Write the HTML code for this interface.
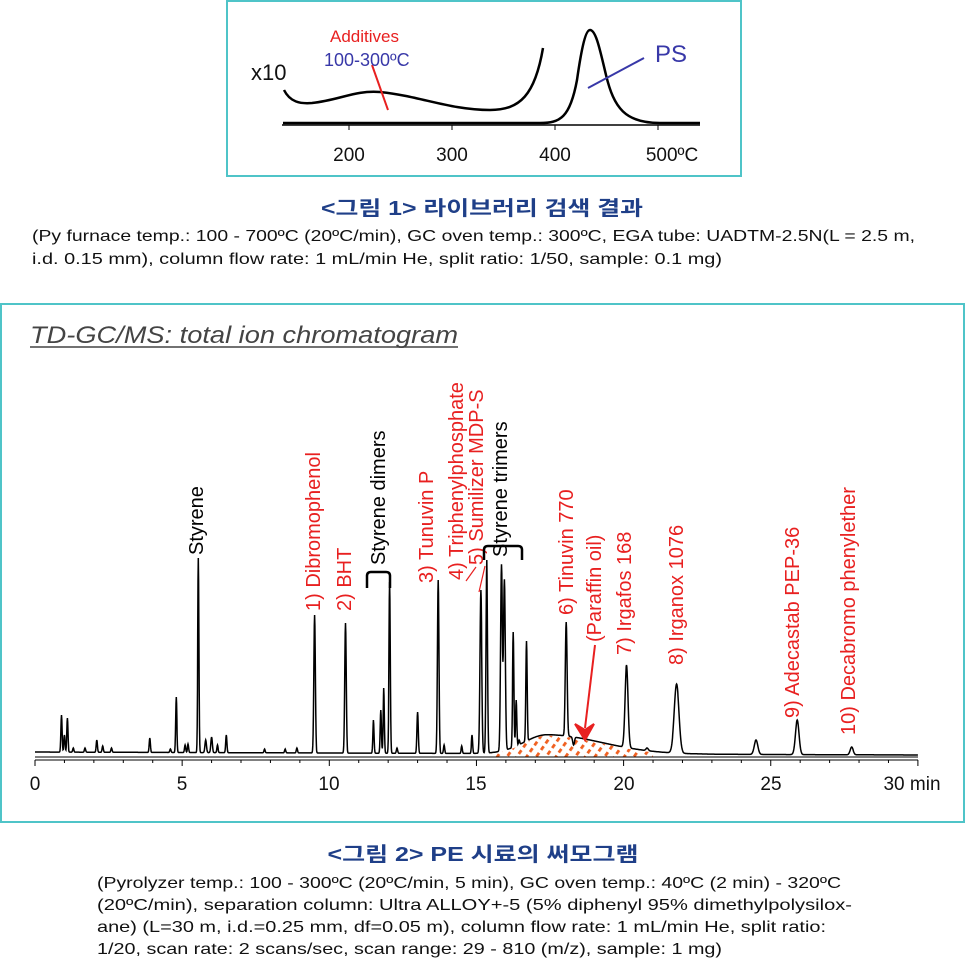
<!DOCTYPE html>
<html><head><meta charset="utf-8"><style>
html,body{margin:0;padding:0;background:#fff;}
svg{display:block;}
.kr{font-family:"Liberation Sans","Noto Sans CJK KR",sans-serif;}
.ar{font-family:"Liberation Sans",sans-serif;}
</style></head><body>
<svg id="s" width="966" height="967" viewBox="0 0 966 967" xmlns="http://www.w3.org/2000/svg">
<defs>
<pattern id="hp" width="8" height="8" patternUnits="userSpaceOnUse" patternTransform="rotate(-55)">
<rect x="0" y="0" width="4.5" height="2.8" fill="#f06020"/>
</pattern>
</defs>
<rect x="227" y="1" width="514" height="175" fill="none" stroke="#4fc4c8" stroke-width="2"/>
<line x1="282" y1="125" x2="700" y2="125" stroke="#000" stroke-width="1.5"/>
<g stroke="#000" stroke-width="1"><line x1="349" y1="125" x2="349" y2="130"/><line x1="452" y1="125" x2="452" y2="130"/><line x1="555" y1="125" x2="555" y2="130"/><line x1="658" y1="125" x2="658" y2="130"/></g>
<g class="ar" font-size="19" fill="#111" text-anchor="middle"><text x="349" y="161">200</text><text x="452" y="161">300</text><text x="555" y="161">400</text><text x="672" y="161">500ºC</text></g>
<path d="M283,123 L540,123 C560,123 570,118 577,80 C582,45 586,30 590,30 C596,30 600,50 606,75 C614,108 625,123 660,123 L700,123" fill="none" stroke="#000" stroke-width="2.5"/>
<path d="M284,90 C290,102 300,104 312,103 C340,100 355,90 380,92 C420,96 450,110 490,110 C520,110 535,95 543,48" fill="none" stroke="#000" stroke-width="2.5"/>
<line x1="372" y1="65" x2="388" y2="110" stroke="#e82020" stroke-width="2"/>
<line x1="588" y1="88" x2="644" y2="58" stroke="#3838a8" stroke-width="2"/>
<text x="251" y="80" class="ar" font-size="22" fill="#111">x10</text>
<text x="330" y="42" class="ar" font-size="17" fill="#e82020">Additives</text>
<text x="324" y="66" class="ar" font-size="18" fill="#3838a8">100-300ºC</text>
<text x="655" y="62" class="ar" font-size="24" fill="#3838a8">PS</text>
<text x="482" y="215" class="kr" font-size="20" font-weight="bold" fill="#1f3f88" text-anchor="middle" textLength="322" lengthAdjust="spacingAndGlyphs">&lt;그림 1&gt; 라이브러리 검색 결과</text>
<text x="32" y="241" class="kr" font-size="16" fill="#111" textLength="883" lengthAdjust="spacingAndGlyphs">(Py furnace temp.: 100 - 700ºC (20ºC/min), GC oven temp.: 300ºC, EGA tube: UADTM-2.5N(L = 2.5 m,</text>
<text x="32" y="264" class="kr" font-size="16" fill="#111" textLength="690" lengthAdjust="spacingAndGlyphs">i.d. 0.15 mm), column flow rate: 1 mL/min He, split ratio: 1/50, sample: 0.1 mg)</text>
<rect x="1" y="304" width="963" height="518" fill="none" stroke="#4fc4c8" stroke-width="2"/>
<text x="30" y="343" class="kr" font-size="24" font-style="italic" fill="#444" textLength="428" lengthAdjust="spacingAndGlyphs">TD-GC/MS: total ion chromatogram</text>
<line x1="30" y1="347" x2="458" y2="347" stroke="#444" stroke-width="1.5"/>
<path id="hatch" fill="url(#hp)"/>
<path id="chrom" fill="none" stroke="#000" stroke-width="1.5"/>
<line x1="35" y1="757" x2="918" y2="757" stroke="#000" stroke-width="1"/>
<line x1="35" y1="760" x2="918" y2="760" stroke="#000" stroke-width="1"/>
<g id="ticks" stroke="#000" stroke-width="1"></g>
<g class="ar" font-size="19" fill="#111" text-anchor="middle">
<text x="35" y="790">0</text><text x="182" y="790">5</text><text x="329" y="790">10</text><text x="476" y="790">15</text><text x="624" y="790">20</text><text x="771" y="790">25</text><text x="912" y="790">30 min</text></g>
<g class="ar" font-size="20">
<text transform="translate(203,555) rotate(-90)" fill="#000">Styrene</text>
<text transform="translate(320,611) rotate(-90)" fill="#e82020">1) Dibromophenol</text>
<text transform="translate(351,611) rotate(-90)" fill="#e82020">2) BHT</text>
<text transform="translate(385,565) rotate(-90)" fill="#000">Styrene dimers</text>
<text transform="translate(433,583) rotate(-90)" fill="#e82020">3) Tunuvin P</text>
<text transform="translate(463,580) rotate(-90)" fill="#e82020">4) Triphenylphosphate</text>
<text transform="translate(483,565) rotate(-90)" fill="#e82020">5) Sumilizer MDP-S</text>
<text transform="translate(507,557) rotate(-90)" fill="#000">Styrene trimers</text>
<text transform="translate(573,615) rotate(-90)" fill="#e82020">6) Tinuvin 770</text>
<text transform="translate(601,642) rotate(-90)" fill="#e82020">(Paraffin oil)</text>
<text transform="translate(631,655) rotate(-90)" fill="#e82020">7)  Irgafos 168</text>
<text transform="translate(683,665) rotate(-90)" fill="#e82020">8) Irganox 1076</text>
<text transform="translate(799,718) rotate(-90)" fill="#e82020">9) Adecastab PEP-36</text>
<text transform="translate(855,735) rotate(-90)" fill="#e82020">10) Decabromo phenylether</text>
</g>
<path d="M367,588 L367,576 Q367,572 371,572 L386,572 Q390,572 390,576 L390,588" fill="none" stroke="#000" stroke-width="2.5"/>
<path d="M484,560 L484,550 Q484,546 488,546 L518,546 Q522,546 522,550 L522,560" fill="none" stroke="#000" stroke-width="2.5"/>
<line x1="466" y1="581" x2="476" y2="567" stroke="#e82020" stroke-width="1.2"/>
<line x1="485" y1="566" x2="479" y2="592" stroke="#e82020" stroke-width="1.2"/>
<line x1="595" y1="645" x2="585" y2="728" stroke="#e82020" stroke-width="2"/>
<path d="M575,724 L585,740 L594,724 L585,730 Z" fill="#e82020" stroke="#e82020" stroke-width="2"/>
<text x="483" y="861" class="kr" font-size="20" font-weight="bold" fill="#1f3f88" text-anchor="middle" textLength="311" lengthAdjust="spacingAndGlyphs">&lt;그림 2&gt; PE 시료의 써모그램</text>
<g class="kr" font-size="16" fill="#111">
<text x="97" y="888" textLength="744" lengthAdjust="spacingAndGlyphs">(Pyrolyzer temp.: 100 - 300ºC (20ºC/min, 5 min), GC oven temp.: 40ºC (2 min) - 320ºC</text>
<text x="97" y="910" textLength="755" lengthAdjust="spacingAndGlyphs">(20ºC/min), separation column: Ultra ALLOY+-5 (5% diphenyl 95% dimethylpolysilox-</text>
<text x="97" y="932" textLength="729" lengthAdjust="spacingAndGlyphs">ane) (L=30 m, i.d.=0.25 mm, df=0.05 m), column flow rate: 1 mL/min He, split ratio:</text>
<text x="97" y="954" textLength="625" lengthAdjust="spacingAndGlyphs">1/20, scan rate: 2 scans/sec, scan range: 29 - 810 (m/z), sample: 1 mg)</text>
</g>
</svg>
<script>
(function(){
var X=function(t){return 35+29.43*t;};
var peaks=[[0.9,715,.02],[1.0,735,.02],[1.1,718,.02],[1.3,748,.02],[1.7,748,.02],[2.1,740,.02],[2.3,746,.02],[2.6,748,.02],[3.9,738,.02],[4.6,749,.02],[4.8,697,.02],[5.1,745,.02],[5.2,744,.02],[5.55,558,.02],[5.8,740,.025],[6.0,737,.025],[6.2,745,.02],[6.5,735,.02],[7.8,749,.02],[8.5,749,.02],[8.9,748,.02],[9.5,615,.025],[10.55,623,.025],[11.5,720,.02],[11.75,710,.02],[11.85,688,.02],[12.05,582,.022],[12.3,748,.02],[13.0,712,.022],[13.7,580,.025],[13.9,745,.02],[14.5,746,.02],[14.85,735,.02],[15.15,590,.03],[15.35,560,.025],[15.85,565,.03],[15.95,580,.03],[16.25,632,.022],[16.35,700,.02],[16.45,740,.02],[16.7,641,.022],[18.05,622,.03],[18.3,745,.03],[20.1,665,.05],[20.8,748,.04],[21.8,684,.08],[24.5,740,.06],[25.9,720,.06],[27.75,747,.05]];
function base(t){var b=752+3*t/30;var h=0;
 if(t<17.4){h=19*Math.exp(-Math.pow((t-17.4)/1.1,2));}else{h=19*Math.exp(-Math.pow((t-17.4)/2.6,2));}
 return b-h;}
var d="";
for(var i=0;i<=3000;i++){var t=i*0.01;var y=base(t);
 for(var k=0;k<peaks.length;k++){var p=peaks[k];var dt=(t-p[0])/p[2];if(Math.abs(dt)<5){var amp=base(p[0])-p[1];y-=amp*Math.exp(-dt*dt/2);}}
 d+=(i?"L":"M")+X(t).toFixed(1)+","+y.toFixed(1);}
document.getElementById("chrom").setAttribute("d",d);
var h="M"+X(15.5)+",757";
for(var t=15.5;t<=21.01;t+=0.05){h+="L"+X(t).toFixed(1)+","+(base(t)+1).toFixed(1);}
h+="L"+X(21)+",757Z";
document.getElementById("hatch").setAttribute("d",h);
var g=document.getElementById("ticks"),s="";
for(var t=0;t<=30;t++){var L=(t%5==0)?6:3;s+='<line x1="'+X(t)+'" y1="760" x2="'+X(t)+'" y2="'+(760+L)+'"/>';}
g.innerHTML=s;
})();
</script>
</body></html>
